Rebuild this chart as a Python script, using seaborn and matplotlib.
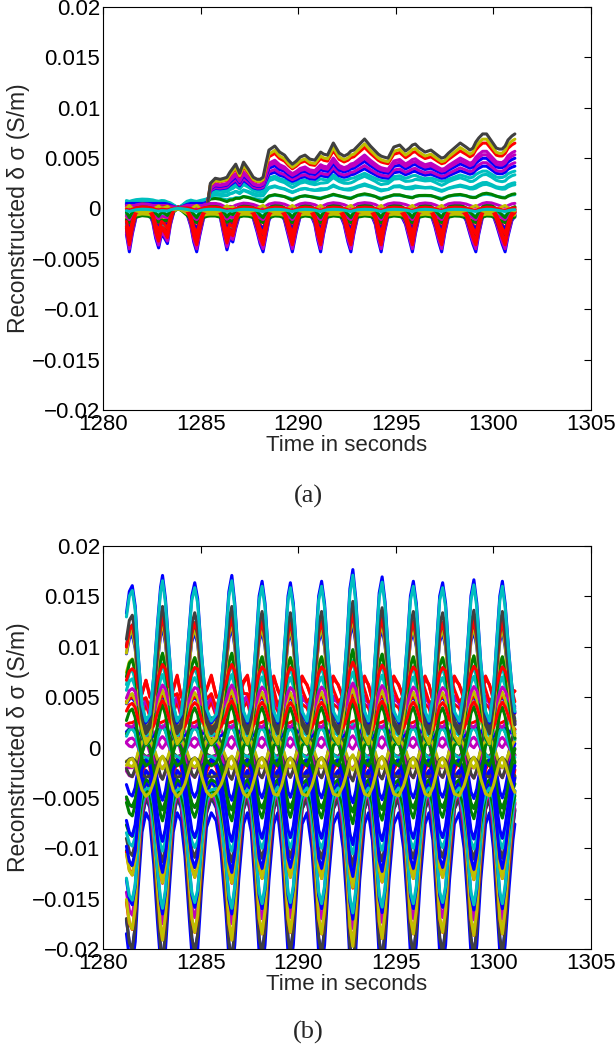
import numpy as np
import pandas as pd
import matplotlib
matplotlib.use("Agg")
import matplotlib.pyplot as plt
import seaborn as sns

# ---- panel (a): sample times and the shapes ----
t_a = [1281.2, 1281.35, 1281.5, 1281.7, 1282.0, 1282.3, 1282.55, 1282.7, 1282.85, 1283.0,
       1283.15, 1283.3, 1283.45, 1283.65, 1283.85, 1284.05, 1284.3, 1284.5, 1284.65, 1284.8,
       1284.95, 1285.15, 1285.35, 1285.5, 1285.75, 1286.0, 1286.2, 1286.35, 1286.5, 1286.65,
       1286.8, 1287.0, 1287.2, 1287.45, 1287.7, 1287.9, 1288.05, 1288.2, 1288.35, 1288.5,
       1288.8, 1289.05, 1289.3, 1289.5, 1289.7, 1289.9, 1290.1, 1290.35, 1290.6, 1290.85,
       1291.0, 1291.15, 1291.3, 1291.5, 1291.8, 1292.1, 1292.35, 1292.55, 1292.7, 1292.85,
       1293.05, 1293.4, 1293.7, 1293.95, 1294.1, 1294.25, 1294.4, 1294.6, 1294.9, 1295.2,
       1295.5, 1295.7, 1295.85, 1296.0, 1296.2, 1296.5, 1296.8, 1297.0, 1297.2, 1297.35,
       1297.5, 1297.7, 1298.0, 1298.3, 1298.6, 1298.8, 1298.95, 1299.1, 1299.25, 1299.45,
       1299.65, 1299.9, 1300.15, 1300.3, 1300.45, 1300.6, 1300.75, 1300.95, 1301.1]

# depth of the periodic dips (1 = bottom of a dip)
dip_a = [0.55, 1.0, 0.55, 0.1, -0.15, -0.05, 0.25, 0.65, 0.9, 0.55,
         0.65, 0.8, 0.35, 0.0, -0.05, -0.05, 0.05, 0.35, 0.75, 1.0,
         0.6, 0.15, -0.05, -0.1, -0.1, 0.1, 0.6, 0.95, 0.65, 0.75,
         0.4, 0.05, -0.1, -0.05, 0.15, 0.5, 0.8, 1.0, 0.6, 0.2,
         -0.1, -0.05, 0.2, 0.6, 1.0, 0.5, 0.1, -0.1, 0.0, 0.3,
         0.7, 1.0, 0.55, 0.1, -0.1, 0.0, 0.3, 0.75, 1.0, 0.55,
         0.1, -0.1, 0.0, 0.3, 0.7, 1.0, 0.55, 0.1, -0.1, 0.0,
         0.3, 0.7, 1.0, 0.55, 0.1, -0.1, 0.05, 0.35, 0.75, 1.0,
         0.55, 0.1, -0.1, -0.05, 0.2, 0.55, 0.8, 1.0, 0.55, 0.1,
         -0.1, -0.05, 0.3, 0.55, 0.8, 1.0, 0.6, 0.2, 0.1]

# spread of the bundle (all traces pinch together near 1283.85 s)
spread_a = [1.0] * 11 + [0.9, 0.7, 0.35, 0.05, 0.35, 0.8] + [1.0] * 82

# top (black) trace after the step, S/m
step_a = [0.0] * 22 + [
    0.0003, 0.0025, 0.0030, 0.0029, 0.0030, 0.0031, 0.0036, 0.0040,
    0.0044, 0.0035, 0.0046, 0.0039, 0.0031, 0.0029, 0.0029, 0.0031, 0.0045, 0.0058,
    0.0062, 0.0056, 0.0053, 0.0048, 0.0044, 0.0047, 0.0051, 0.0053, 0.0049, 0.0048,
    0.0052, 0.0056, 0.0054, 0.0053, 0.0065, 0.0055, 0.0052, 0.0054, 0.0057, 0.0058,
    0.0062, 0.0069, 0.0062, 0.0057, 0.0054, 0.0052, 0.0051, 0.0050, 0.0061, 0.0063,
    0.0057, 0.0060, 0.0063, 0.0064, 0.0060, 0.0056, 0.0058, 0.0055, 0.0052, 0.0050,
    0.0051, 0.0055, 0.0060, 0.0065, 0.0061, 0.0058, 0.0060, 0.0066, 0.0070, 0.0074,
    0.0074, 0.0067, 0.0060, 0.0059, 0.0059, 0.0062, 0.0068, 0.0072, 0.0074]

# traces of panel (a): offset, dip weight, step weight, colour code
off_a = [-0.0004, -0.0003, -0.0002, -0.0001, 0.0, 0.0001, 0.0, -0.0004, 0.0002, 0.0001,
         -0.0005, -0.0006, 0.0003, -0.0008, -0.0006, -0.0003, -0.0002, -0.0001, 0.0002,
         0.0008, 0.0006, 0.0009, 0.0005, 0.0007, 0.0006, 0.0005, 0.0004, 0.0004, 0.0003,
         0.0002, 0.0002, 0.0, 0.0,
         0.0003, 0.0004, -0.0003, 0.0001, -0.0001]
dipk_a = [-0.0039, -0.0037, -0.0032, -0.0030, -0.0036, -0.0033, -0.0029, -0.0026, -0.0025, -0.0021,
          -0.0018, -0.0014, -0.0017, -0.0006, -0.0004, -0.0008, -0.0005, -0.0031, -0.0027,
          -0.0002, -0.0003, -0.0002, -0.0001, -0.0002, 0.0, 0.0, 0.0, 0.0, 0.0,
          0.0, 0.0, 0.0, 0.0,
          -0.0012, -0.0004, 0.0006, -0.0003, -0.0002]
stepk_a = [0, 0, 0, 0, 0, 0, 0, 0, 0, 0,
           0, 0, 0, 0, 0, 0, 0, 0, 0,
           0.08, 0.12, 0.2, 0.28, 0.36, 0.42, 0.5, 0.56, 0.62, 0.68,
           0.74, 0.85, 0.93, 1.0,
           0, 0.02, 0, 0, 0]
col_a = "bmbmrrrkrrcbrgymcrr" + "cgccccbmbmmryk" + "gmyrc"

# ---- panel (b) ----
t_b = [1281.2, 1281.35, 1281.5, 1281.65, 1281.8, 1282.0, 1282.2, 1282.4, 1282.6, 1282.8,
       1282.95, 1283.05, 1283.2, 1283.4, 1283.6, 1283.8, 1284.0, 1284.2, 1284.4, 1284.55,
       1284.7, 1284.85, 1285.05, 1285.3, 1285.55, 1285.8, 1286.05, 1286.3, 1286.45, 1286.6,
       1286.75, 1286.95, 1287.2, 1287.4, 1287.6, 1287.85, 1288.0, 1288.15, 1288.3, 1288.5,
       1288.75, 1288.95, 1289.15, 1289.35, 1289.48, 1289.6, 1289.75, 1289.95, 1290.2, 1290.45,
       1290.7, 1290.9, 1291.05, 1291.2, 1291.35, 1291.55, 1291.8, 1292.05, 1292.3, 1292.5,
       1292.65, 1292.8, 1292.95, 1293.15, 1293.4, 1293.6, 1293.8, 1294.0, 1294.15, 1294.3,
       1294.45, 1294.65, 1294.9, 1295.15, 1295.4, 1295.6, 1295.75, 1295.9, 1296.05, 1296.25,
       1296.5, 1296.7, 1296.9, 1297.1, 1297.25, 1297.4, 1297.55, 1297.75, 1298.0, 1298.25,
       1298.5, 1298.7, 1298.85, 1299.0, 1299.15, 1299.35, 1299.6, 1299.8, 1300.0, 1300.2,
       1300.33, 1300.46, 1300.6, 1300.8, 1301.0, 1301.1]

# main beat (1 = top of a beat)
pulse_b = [0.78, 0.93, 0.97, 0.83, 0.5, 0.15, 0.03, 0.08, 0.35, 0.72,
           0.96, 1.04, 0.88, 0.5, 0.15, 0.03, 0.08, 0.3, 0.65, 0.9,
           0.99, 0.88, 0.5, 0.12, 0.03, 0.08, 0.28, 0.65, 0.93, 1.04,
           0.85, 0.45, 0.1, 0.03, 0.15, 0.6, 0.9, 1.0, 0.85, 0.45,
           0.1, 0.03, 0.25, 0.65, 0.9, 0.99, 0.85, 0.45, 0.1, 0.03,
           0.25, 0.6, 0.9, 1.0, 0.85, 0.45, 0.1, 0.03, 0.25, 0.6,
           0.95, 1.08, 0.88, 0.45, 0.1, 0.03, 0.2, 0.6, 0.92, 1.03,
           0.86, 0.45, 0.1, 0.03, 0.25, 0.6, 0.9, 1.0, 0.85, 0.45,
           0.1, 0.03, 0.2, 0.6, 0.9, 0.99, 0.85, 0.45, 0.1, 0.03,
           0.25, 0.6, 0.9, 1.01, 0.85, 0.45, 0.1, 0.03, 0.25, 0.65,
           0.9, 1.0, 0.85, 0.5, 0.2, 0.1]

# secondary bump between beats
sec_b = [0.0, 0.0, 0.0, 0.1, 0.2, 0.5, 0.9, 0.5, 0.2, 0.1,
         0.0, 0.0, 0.1, 0.2, 0.6, 1.0, 0.5, 0.3, 0.1, 0.0,
         0.0, 0.1, 0.2, 0.6, 1.0, 0.5, 0.3, 0.1, 0.0, 0.0,
         0.1, 0.3, 0.8, 1.0, 0.4, 0.1, 0.0, 0.0, 0.1, 0.3,
         0.9, 0.7, 0.3, 0.1, 0.0, 0.0, 0.1, 0.3, 0.9, 0.8,
         0.3, 0.1, 0.0, 0.0, 0.1, 0.3, 0.9, 0.8, 0.3, 0.1,
         0.0, 0.0, 0.1, 0.3, 0.9, 0.8, 0.3, 0.1, 0.0, 0.0,
         0.1, 0.3, 0.9, 0.8, 0.3, 0.1, 0.0, 0.0, 0.1, 0.3,
         0.9, 0.8, 0.3, 0.1, 0.0, 0.0, 0.1, 0.3, 0.9, 0.8,
         0.3, 0.1, 0.0, 0.0, 0.1, 0.3, 0.9, 0.8, 0.3, 0.1,
         0.0, 0.0, 0.1, 0.3, 0.5, 0.6]

off_b = [-0.006, -0.005, -0.0045, -0.004, -0.005, -0.003, -0.003, -0.004, -0.004, -0.001,
         -0.002, -0.002, -0.003, -0.003, -0.002, -0.002, -0.001, 0.001, 0.0, -0.002,
         0.002, 0.003, 0.001, 0.0, -0.001, 0.0015, 0.001, -0.001, -0.002, 0.002,
         -0.003, 0.0, 0.003, 0.001, 0.003, -0.001, 0.0005, -0.002,
         0.0, 0.002, 0.0, 0.0015, 0.0005, 0.001, 0.0, 0.0015, 0.002, 0.001,
         0.001, 0.002, 0.0022, -0.0045]
pk_b = [-0.016, -0.0155, -0.016, -0.0145, -0.012, -0.0155, -0.013, -0.0115, -0.008, -0.012,
        -0.009, -0.011, -0.006, -0.007, -0.010, -0.004, -0.005, -0.006, -0.003, 0.0,
        -0.002, -0.001, -0.004, 0.002, 0.003, 0.001, -0.003, 0.002, 0.004, 0.003,
        0.002, -0.007, -0.001, 0.006, 0.002, -0.008, 0.005, 0.006,
        0.008, 0.007, 0.009, 0.010, 0.004, 0.005, 0.012, 0.011, 0.006, 0.0115,
        0.0125, 0.0145, 0.0138, 0.0035]
sk_b = [0.0, 0.0005, 0.0, 0.0, 0.001, 0.0, 0.0, 0.0, 0.0, 0.0,
        0.0, 0.0, 0.0, -0.001, 0.0, 0.001, 0.0, 0.0, 0.002, 0.003,
        0.001, 0.0, 0.002, 0.002, 0.0, 0.003, 0.0, 0.0, 0.001, 0.0,
        0.0, 0.001, 0.002, 0.0, 0.004, 0.0, 0.0, 0.0,
        0.0, 0.0, 0.0, 0.0, 0.0015, 0.004, 0.0, 0.0, 0.005, 0.004,
        0.0, 0.0, 0.0, -0.0005]
col_b = "bbkrmybcgrkygcbmgbmm" + "mckbgrymcbkgmcrbyg" + "cygbrmykrrkbcy"

x_ticks = [1280, 1285, 1290, 1295, 1300, 1305]
y_ticks = [-0.02, -0.015, -0.01, -0.005, 0, 0.005, 0.01, 0.015, 0.02]
y_tick_labels = ["\u22120.02", "\u22120.015", "\u22120.01", "\u22120.005", "0",
                 "0.005", "0.01", "0.015", "0.02"]

# old MATLAB line colours
matlab = {"b": (0, 0, 1), "g": (0, 0.5, 0), "r": (1, 0, 0), "c": (0, 0.75, 0.75),
          "m": (0.75, 0, 0.75), "y": (0.75, 0.75, 0), "k": (0.25, 0.25, 0.25)}

assert len(t_a) == len(dip_a) == len(spread_a) == len(step_a)
assert len(off_a) == len(dipk_a) == len(stepk_a) == len(col_a)
assert len(t_b) == len(pulse_b) == len(sec_b)
assert len(off_b) == len(pk_b) == len(sk_b) == len(col_b)

sns.set_style("white")
plt.rcParams["font.family"] = ["Liberation Sans", "DejaVu Sans"]
plt.rcParams["axes.unicode_minus"] = True

# build long tables, one trace per hue level
frames = []
for i in range(len(off_a)):
    v = (off_a[i] * np.array(spread_a) + dipk_a[i] * np.array(dip_a)
         + stepk_a[i] * np.array(step_a))
    frames.append(pd.DataFrame({"t": t_a, "v": v, "trace": f"a{i:02d}"}))
df_a = pd.concat(frames, ignore_index=True)
pal_a = {f"a{i:02d}": matlab[c] for i, c in enumerate(col_a)}

frames = []
for i in range(len(off_b)):
    v = off_b[i] + pk_b[i] * np.array(pulse_b) + sk_b[i] * np.array(sec_b)
    frames.append(pd.DataFrame({"t": t_b, "v": v, "trace": f"b{i:02d}"}))
df_b = pd.concat(frames, ignore_index=True)
pal_b = {f"b{i:02d}": matlab[c] for i, c in enumerate(col_b)}

fig = plt.figure(figsize=(6.16, 10.5), dpi=100)
ax_a = fig.add_axes([103 / 616, 1 - 410 / 1050, 488 / 616, 403 / 1050])
ax_b = fig.add_axes([103 / 616, 1 - 949 / 1050, 488 / 616, 403 / 1050])

sns.lineplot(data=df_a, x="t", y="v", hue="trace", palette=pal_a,
             hue_order=list(pal_a.keys()), estimator=None, sort=False,
             legend=False, linewidth=2.2, ax=ax_a)
sns.lineplot(data=df_b, x="t", y="v", hue="trace", palette=pal_b,
             hue_order=list(pal_b.keys()), estimator=None, sort=False,
             legend=False, linewidth=2.2, ax=ax_b)

for ax in (ax_a, ax_b):
    ax.set_xlim(1280, 1305)
    ax.set_ylim(-0.02, 0.02)
    ax.set_xticks(x_ticks)
    ax.set_xticklabels([str(x) for x in x_ticks])
    ax.set_yticks(y_ticks)
    ax.set_yticklabels(y_tick_labels)
    ax.tick_params(direction="in", top=True, right=True, length=5, width=0.8,
                   labelsize=16, colors="black")
    ax.tick_params(axis="y", pad=2)
    ax.tick_params(axis="x", pad=3)
    for sp in ax.spines.values():
        sp.set_visible(True)
        sp.set_color("black")
        sp.set_linewidth(0.8)
    ax.set_xlabel("Time in seconds", fontsize=16, labelpad=0)
    ax.set_ylabel("Reconstructed \u03b4 \u03c3 (S/m)", fontsize=16.5, labelpad=1)

fig.text(0.5, 1 - 496 / 1050, "(a)", ha="center", va="center",
         family=["Liberation Serif", "DejaVu Serif"], fontsize=19)
fig.text(0.5, 1 - 1032 / 1050, "(b)", ha="center", va="center",
         family=["Liberation Serif", "DejaVu Serif"], fontsize=19)

fig.savefig("out.png", dpi=100)
